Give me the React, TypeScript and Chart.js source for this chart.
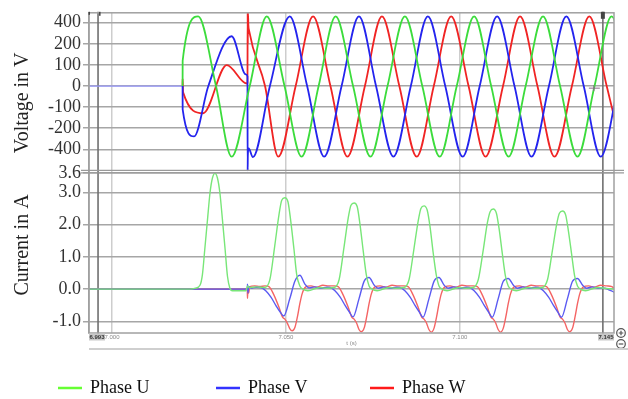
import React, { useEffect, useRef } from "react";
import { Chart, registerables } from "chart.js";

Chart.register(...registerables);

type Pt = [number, number];

// ---------- texts ----------
const phaseNames = ["Phase U", "Phase V", "Phase W"];
const voltageTitle = "Voltage in V";
const currentTitle = "Current in A";
const timeTitle = "t (s)";
const rangeLabels = ["6.993", "7.145"];

// ---------- axes ----------
const timeRange = [6.9934, 7.1443];
const timeTicks = [7.0, 7.05, 7.1];
const cursorTimes = [6.996, 7.1411];
const switchOnTime = 7.0203;
const voltageRange = [-411.7, 347.2];
const voltageTickValues = [-300, -200, -100, 0, 100, 200, 300];
const voltageTickLabels = ["-400", "-200", "-100", "0", "100", "200", "400"];
const currentRange = [-1.358, 3.6];
const currentTickValues = [-1, 0, 1, 2, 3, 3.6];

// ---------- colours ----------
const voltageColors = ["#3cdc3c", "#2424ee", "#f02424"];
const currentColors = ["#78e678", "#5a5af2", "#f46464"];
const legendColors = ["#66ff33", "#3333ff", "#ff1a1a"];

// ---------- voltage (t in s, value in axis units) ----------
const voltageU: Pt[] = [
  [7.0203, 0], [7.02032, 120], [7.0248, 330], [7.0299, 0], [7.0344, -335], [7.0396, 0],
  [7.0445, 330], [7.0496, 0], [7.0545, -335], [7.0594, 0], [7.0643, 330], [7.0693, 0],
  [7.0743, -335], [7.0792, 0], [7.0842, 330], [7.0892, 0], [7.0942, -335], [7.0991, 0],
  [7.1041, 330], [7.109, 0], [7.114, -335], [7.1189, 0], [7.1239, 330], [7.1288, 0],
  [7.1338, -335], [7.1387, 0], [7.1436, 330], [7.1486, 0],
];
const voltageV: Pt[] = [
  [6.99, 0], [7.0203, 0], [7.02032, -110], [7.0236, -239], [7.0277, 0], [7.0344, 236],
  [7.0385, 55], [7.03895, 45], [7.039, -400], [7.03905, -330], [7.0393, -295], [7.0405, -337],
  [7.0454, 0], [7.0511, 330], [7.0561, 0], [7.061, -335], [7.066, 0], [7.071, 330],
  [7.0759, 0], [7.0809, -335], [7.0859, 0], [7.0908, 330], [7.0958, 0], [7.1008, -335],
  [7.1057, 0], [7.1107, 330], [7.1157, 0], [7.1206, -335], [7.1256, 0], [7.1306, 330],
  [7.1356, 0], [7.1405, -335], [7.1455, 0],
];
const voltageW: Pt[] = [
  [7.0203, 0], [7.02031, 35], [7.02045, -30], [7.0262, -129], [7.033, 99], [7.0387, 12],
  [7.03895, 15], [7.039, 347], [7.03905, 200], [7.0391, 347], [7.0392, 290], [7.0394, 264],
  [7.044, 0], [7.0478, -335], [7.0528, 0], [7.0578, 330], [7.0628, 0], [7.0677, -335],
  [7.0727, 0], [7.0776, 330], [7.0826, 0], [7.0876, -335], [7.0925, 0], [7.0975, 330],
  [7.1025, 0], [7.1074, -335], [7.1124, 0], [7.1173, 330], [7.1223, 0], [7.1272, -335],
  [7.1322, 0], [7.1372, 330], [7.1422, 0], [7.1471, -335],
];

// ---------- current (t in s, value in A) ----------
const currentU: Pt[] = [
  [6.99, 0], [7.0224, 0], [7.024, 0.03], [7.0253, 0.12], [7.026, 0.45], [7.0267, 1.26],
  [7.0275, 2.2], [7.0282, 3.0], [7.0289, 3.45], [7.0296, 3.59], [7.0303, 3.45], [7.031, 3.0],
  [7.0318, 2.1], [7.0325, 1.26], [7.0332, 0.4], [7.0339, 0.03], [7.0346, -0.05], [7.0385, -0.05],
  [7.039, 0.1], [7.0395, 0.05], [7.0415, 0.07],
  [7.0439, 0.05], [7.0454, 0.3], [7.0468, 1.35], [7.048, 2.3], [7.0488, 2.75], [7.0497, 2.83],
  [7.0506, 2.7], [7.0514, 2.1], [7.0523, 1.25], [7.0531, 0.45], [7.054, 0.1], [7.0549, 0.0],
  [7.0563, -0.05], [7.0597, 0.05], [7.0615, 0.03],
  [7.0638, 0.05], [7.0653, 0.3], [7.0667, 1.3], [7.0679, 2.2], [7.0687, 2.6], [7.0696, 2.67],
  [7.0705, 2.55], [7.0713, 2.0], [7.0722, 1.2], [7.0731, 0.45], [7.0739, 0.1], [7.0748, 0.0],
  [7.0762, -0.05], [7.0796, 0.05], [7.0815, 0.03],
  [7.0839, 0.05], [7.0854, 0.3], [7.0868, 1.25], [7.088, 2.1], [7.0888, 2.5], [7.0897, 2.58],
  [7.0906, 2.45], [7.0914, 1.95], [7.0923, 1.15], [7.0932, 0.45], [7.094, 0.1], [7.0949, 0.0],
  [7.0963, -0.05], [7.0997, 0.05], [7.1016, 0.03],
  [7.1038, 0.05], [7.1053, 0.3], [7.1067, 1.2], [7.1079, 2.05], [7.1087, 2.4], [7.1096, 2.48],
  [7.1105, 2.35], [7.1113, 1.85], [7.1122, 1.1], [7.1131, 0.4], [7.1139, 0.1], [7.1148, 0.0],
  [7.1162, -0.05], [7.1196, 0.05], [7.1215, 0.03],
  [7.1237, 0.05], [7.1252, 0.3], [7.1266, 1.2], [7.1278, 2.0], [7.1286, 2.35], [7.1295, 2.42],
  [7.1304, 2.3], [7.1312, 1.8], [7.1321, 1.1], [7.133, 0.4], [7.1338, 0.1], [7.1347, 0.0],
  [7.1361, -0.05], [7.1395, 0.05], [7.142, 0.02], [7.145, 0.0],
];
const currentV: Pt[] = [
  [6.99, 0], [7.0389, 0], [7.03895, 0.15], [7.0391, -0.12], [7.0393, 0.08], [7.04, 0.03], [7.0415, 0.06],
  [7.0428, 0.05], [7.0442, -0.05], [7.0457, -0.25], [7.0471, -0.5], [7.0483, -0.7], [7.0494, -0.83],
  [7.0511, -0.3], [7.0526, 0.25], [7.054, 0.43], [7.0555, 0.15], [7.0566, 0.04], [7.0583, 0.07],
  [7.06, 0.03], [7.0618, 0.06],
  [7.0627, 0.05], [7.0641, -0.05], [7.0656, -0.25], [7.067, -0.5], [7.0682, -0.7], [7.0693, -0.86],
  [7.071, -0.3], [7.0725, 0.25], [7.0739, 0.36], [7.0754, 0.12], [7.0765, 0.03], [7.0782, 0.07],
  [7.08, 0.03], [7.0817, 0.06],
  [7.0828, 0.05], [7.0842, -0.05], [7.0857, -0.25], [7.0871, -0.5], [7.0883, -0.7], [7.0894, -0.87],
  [7.0911, -0.3], [7.0926, 0.25], [7.094, 0.36], [7.0955, 0.12], [7.0966, 0.03], [7.0983, 0.07],
  [7.1001, 0.03], [7.1018, 0.06],
  [7.1027, 0.05], [7.1041, -0.05], [7.1056, -0.25], [7.107, -0.5], [7.1082, -0.7], [7.1093, -0.87],
  [7.111, -0.3], [7.1125, 0.25], [7.1139, 0.33], [7.1154, 0.12], [7.1165, 0.03], [7.1182, 0.07],
  [7.12, 0.03], [7.1217, 0.06],
  [7.1226, 0.05], [7.124, -0.05], [7.1255, -0.25], [7.1269, -0.5], [7.1281, -0.7], [7.1292, -0.87],
  [7.1309, -0.3], [7.1324, 0.25], [7.1338, 0.33], [7.1353, 0.12], [7.1364, 0.03], [7.1381, 0.07],
  [7.1399, 0.03], [7.1416, 0.03], [7.143, -0.03], [7.1444, -0.1], [7.1459, -0.25],
];
const currentW: Pt[] = [
  [6.99, 0], [7.0389, 0], [7.03895, -0.28], [7.0391, 0.05], [7.0393, -0.12], [7.0396, 0.08],
  [7.041, 0.1], [7.0425, 0.08],
  [7.044, 0.1], [7.0451, 0.08], [7.0465, -0.17], [7.048, -0.56], [7.049, -0.86], [7.0497, -0.93],
  [7.0504, -1.05], [7.0511, -1.22], [7.0518, -1.29], [7.0526, -1.18], [7.0533, -0.86], [7.054, -0.45],
  [7.0547, -0.13], [7.0557, 0.07], [7.0572, 0.1], [7.0589, 0.06], [7.0606, 0.12], [7.0624, 0.1],
  [7.0639, 0.1], [7.065, 0.08], [7.0664, -0.17], [7.0679, -0.56], [7.0689, -0.86], [7.0696, -0.93],
  [7.0703, -1.05], [7.071, -1.25], [7.0717, -1.32], [7.0725, -1.2], [7.0732, -0.86], [7.0739, -0.45],
  [7.0746, -0.13], [7.0756, 0.07], [7.0771, 0.1], [7.0788, 0.06], [7.0805, 0.12], [7.0823, 0.1],
  [7.084, 0.1], [7.0851, 0.08], [7.0865, -0.17], [7.088, -0.56], [7.089, -0.86], [7.0897, -0.93],
  [7.0904, -1.05], [7.0911, -1.25], [7.0918, -1.33], [7.0926, -1.2], [7.0933, -0.86], [7.094, -0.45],
  [7.0947, -0.13], [7.0957, 0.07], [7.0972, 0.1], [7.0989, 0.06], [7.1006, 0.12], [7.1024, 0.1],
  [7.1039, 0.1], [7.105, 0.08], [7.1064, -0.17], [7.1079, -0.56], [7.1089, -0.86], [7.1096, -0.93],
  [7.1103, -1.05], [7.111, -1.25], [7.1117, -1.33], [7.1125, -1.2], [7.1132, -0.86], [7.1139, -0.45],
  [7.1146, -0.13], [7.1156, 0.07], [7.1171, 0.1], [7.1188, 0.06], [7.1205, 0.12], [7.1223, 0.1],
  [7.1238, 0.1], [7.1249, 0.08], [7.1263, -0.17], [7.1278, -0.56], [7.1288, -0.86], [7.1295, -0.93],
  [7.1302, -1.05], [7.1309, -1.25], [7.1316, -1.32], [7.1324, -1.2], [7.1331, -0.86], [7.1338, -0.45],
  [7.1345, -0.13], [7.1355, 0.07], [7.137, 0.1], [7.1387, 0.06], [7.1404, 0.12], [7.1422, 0.1],
  [7.1437, 0.08], [7.145, -0.05],
];

const SERIF = "'Liberation Serif', 'Times New Roman', serif";
const SANS = "'Liberation Sans', Arial, sans-serif";

const toXY = (arr: Pt[]) => arr.map(([x, y]) => ({ x, y }));

const decorations = {
  id: "decorations",
  beforeDatasetsDraw(chart: any) {
    const { ctx, chartArea: a, scales } = chart;
    const xs = scales.x;
    ctx.save();
    ctx.strokeStyle = "#707070";
    ctx.lineWidth = 1.6;
    cursorTimes.forEach((t) => {
      const px = xs.getPixelForValue(t);
      ctx.beginPath();
      ctx.moveTo(px, a.top - 1);
      ctx.lineTo(px, a.bottom + 3);
      ctx.stroke();
    });
    ctx.restore();
  },
  afterDraw(chart: any) {
    const { ctx, chartArea: a, scales } = chart;
    const yI = scales.yI;
    const yV = scales.yV;
    ctx.save();
    // frame
    ctx.strokeStyle = "#a0a0a0";
    ctx.lineWidth = 1.5;
    ctx.strokeRect(a.left, a.top, a.right - a.left, a.bottom - a.top);
    // panel separator (double line)
    ctx.strokeStyle = "#9a9a9a";
    ctx.lineWidth = 1.3;
    [yI.top, yI.top - 2.6].forEach((y) => {
      ctx.beginPath();
      ctx.moveTo(a.left - 8, y);
      ctx.lineTo(a.right + 10, y);
      ctx.stroke();
    });
    // axis titles
    ctx.fillStyle = "#222";
    ctx.font = `20px ${SERIF}`;
    ctx.textAlign = "center";
    ctx.textBaseline = "middle";
    const titles: [string, number][] = [
      [voltageTitle, (yV.top + yV.bottom) / 2 + 10],
      [currentTitle, (yI.top + yI.bottom) / 2 - 8],
    ];
    titles.forEach(([txt, cy]) => {
      ctx.save();
      ctx.translate(23, cy);
      ctx.rotate(-Math.PI / 2);
      ctx.fillText(txt, 0, 0);
      ctx.restore();
    });
    // time axis title
    ctx.fillStyle = "#888";
    ctx.font = `6px ${SANS}`;
    ctx.fillText(timeTitle, (a.left + a.right) / 2, a.bottom + 10);
    // range boxes at both ends of time axis
    ctx.font = `bold 6px ${SANS}`;
    const boxes: [string, number][] = [
      [rangeLabels[0], a.left],
      [rangeLabels[1], a.right - 16],
    ];
    boxes.forEach(([txt, x0]) => {
      ctx.fillStyle = "#c9c9c9";
      ctx.fillRect(x0, a.bottom + 0.5, 16, 7);
      ctx.fillStyle = "#333";
      ctx.fillText(txt, x0 + 8, a.bottom + 4.2);
    });
    // cursor handles at the top
    ctx.fillStyle = "#444";
    ctx.fillRect(a.left - 0.5, a.top - 1, 1.5, 3);
    const c0 = scales.x.getPixelForValue(cursorTimes[0]);
    const c1 = scales.x.getPixelForValue(cursorTimes[1]);
    ctx.fillRect(c0 + 1, a.top - 1, 1.5, 4);
    ctx.fillRect(c1 - 2, a.top - 1, 4, 7);
    // crosshair marker
    ctx.strokeStyle = "#8a6a8a";
    ctx.lineWidth = 1;
    ctx.beginPath();
    ctx.moveTo(c1 - 14, yV.getPixelForValue(-10));
    ctx.lineTo(c1 - 3, yV.getPixelForValue(-10));
    ctx.moveTo(c1 - 9, yV.getPixelForValue(-10) - 3);
    ctx.lineTo(c1 - 9, yV.getPixelForValue(-10) + 3);
    ctx.stroke();
    // zoom icons
    const icx = a.right + 7;
    [a.bottom, a.bottom + 11].forEach((cy, i) => {
      ctx.beginPath();
      ctx.arc(icx, cy, 4.3, 0, Math.PI * 2);
      ctx.fillStyle = "#fff";
      ctx.fill();
      ctx.strokeStyle = "#555";
      ctx.lineWidth = 1.2;
      ctx.stroke();
      ctx.beginPath();
      ctx.moveTo(icx - 2.3, cy);
      ctx.lineTo(icx + 2.3, cy);
      if (i === 0) {
        ctx.moveTo(icx, cy - 2.3);
        ctx.lineTo(icx, cy + 2.3);
      }
      ctx.stroke();
    });
    // scrollbar line
    ctx.strokeStyle = "#cfcfcf";
    ctx.lineWidth = 2;
    ctx.beginPath();
    ctx.moveTo(a.left, a.bottom + 16);
    ctx.lineTo(chart.width, a.bottom + 16);
    ctx.stroke();
    // legend
    const legendX = [58, 216, 370];
    const legendY = 388;
    ctx.font = `18px ${SERIF}`;
    ctx.textAlign = "left";
    ctx.textBaseline = "middle";
    phaseNames.forEach((name, i) => {
      ctx.strokeStyle = legendColors[i];
      ctx.lineWidth = 2.5;
      ctx.beginPath();
      ctx.moveTo(legendX[i], legendY);
      ctx.lineTo(legendX[i] + 24, legendY);
      ctx.stroke();
      ctx.fillStyle = "#111";
      ctx.fillText(name, legendX[i] + 32, legendY);
    });
    ctx.restore();
  },
};

export default function App() {
  const ref = useRef<HTMLCanvasElement>(null);

  useEffect(() => {
    if (!ref.current) return;
    const vSeries = [voltageU, voltageV, voltageW];
    const iSeries = [currentU, currentV, currentW];
    const datasets: any[] = [];
    iSeries.forEach((s, i) => {
      datasets.push({
        label: phaseNames[i],
        data: toXY(s),
        yAxisID: "yI",
        borderColor: currentColors[i],
        borderWidth: 1.4,
        pointRadius: 0,
        cubicInterpolationMode: "monotone",
      });
    });
    vSeries.forEach((s, i) => {
      datasets.push({
        label: phaseNames[i],
        data: toXY(s),
        yAxisID: "yV",
        borderColor: voltageColors[i],
        borderWidth: 1.8,
        pointRadius: 0,
        cubicInterpolationMode: "monotone",
        segment: {
          borderColor: (c: any) =>
            c.p1.parsed.x <= switchOnTime ? "#9a9aff" : undefined,
          borderWidth: (c: any) => (c.p1.parsed.x <= switchOnTime ? 1.2 : undefined),
        },
      });
    });

    const yTickFont = { size: 18, family: SERIF };

    const chart = new Chart(ref.current, {
      type: "line",
      data: { datasets },
      plugins: [decorations],
      options: {
        animation: false,
        responsive: false,
        devicePixelRatio: 1,
        events: [],
        layout: { padding: { left: 0, right: 14, top: 11.7, bottom: 0 } },
        plugins: { legend: { display: false }, tooltip: { enabled: false } },
        scales: {
          x: {
            type: "linear",
            min: timeRange[0],
            max: timeRange[1],
            afterBuildTicks: (s: any) => {
              s.ticks = timeTicks.map((v) => ({ value: v }));
            },
            afterFit: (s: any) => {
              s.height = 66;
            },
            ticks: {
              font: { size: 6, family: SANS },
              color: "#8a8a8a",
              padding: 1,
              maxRotation: 0,
              autoSkip: false,
              callback: (v: any) => Number(v).toFixed(3),
            },
            grid: { color: "#cdcdcd", lineWidth: 1.5, drawTicks: false },
            border: { display: false },
          },
          yI: {
            type: "linear",
            position: "left",
            stack: "panels",
            stackWeight: 1,
            min: currentRange[0],
            max: currentRange[1],
            afterBuildTicks: (s: any) => {
              s.ticks = currentTickValues.map((v) => ({ value: v }));
            },
            afterFit: (s: any) => {
              s.width = 89;
            },
            ticks: {
              font: yTickFont,
              color: "#333",
              padding: 2,
              autoSkip: false,
              callback: (v: any) => Number(v).toFixed(1),
            },
            grid: { color: "#a6a6a6", lineWidth: 1.5, tickLength: 6 },
            border: { display: true, color: "#a0a0a0", width: 1.5 },
          },
          yV: {
            type: "linear",
            position: "left",
            stack: "panels",
            stackWeight: 1,
            min: voltageRange[0],
            max: voltageRange[1],
            afterBuildTicks: (s: any) => {
              s.ticks = voltageTickValues.map((v) => ({ value: v }));
            },
            afterFit: (s: any) => {
              s.width = 89;
            },
            ticks: {
              font: yTickFont,
              color: "#333",
              padding: 2,
              autoSkip: false,
              callback: (_v: any, i: number) => voltageTickLabels[i],
            },
            grid: { color: "#a6a6a6", lineWidth: 1.5, tickLength: 6 },
            border: { display: true, color: "#a0a0a0", width: 1.5 },
          },
        },
      } as any,
    });
    return () => chart.destroy();
  }, []);

  return (
    <div style={{ position: "fixed", left: 0, top: 0, width: 628, height: 399, background: "#fff" }}>
      <canvas ref={ref} width={628} height={399} style={{ display: "block" }} />
    </div>
  );
}
